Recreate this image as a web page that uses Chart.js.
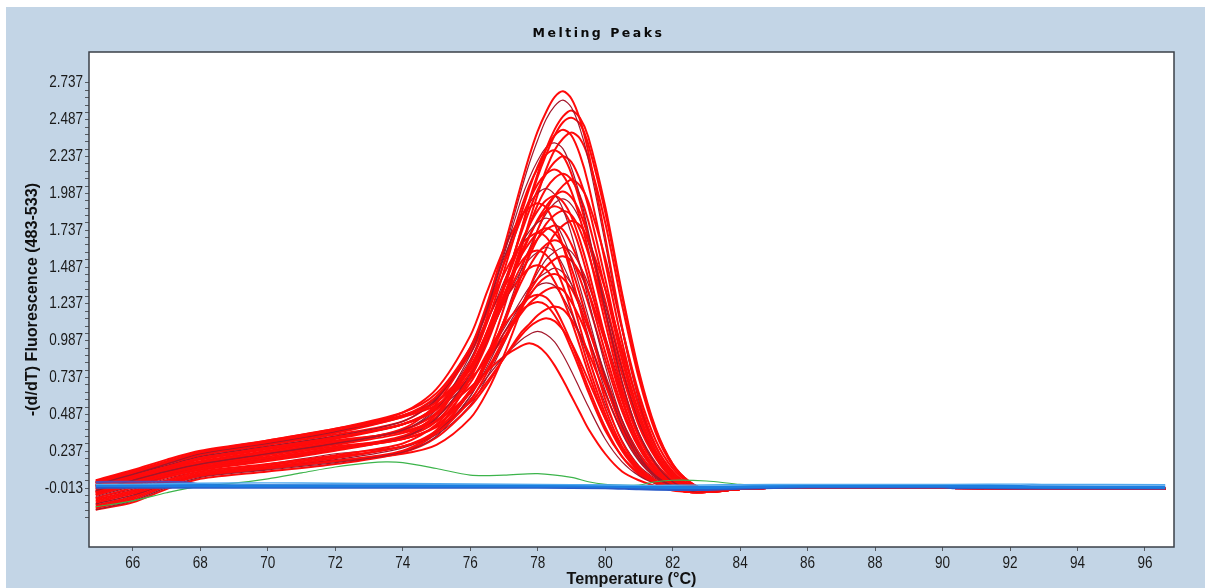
<!DOCTYPE html>
<html>
<head>
<meta charset="utf-8">
<title>Melting Peaks</title>
<script src="https://cdn.jsdelivr.net/npm/chart.js@4.4.0/dist/chart.umd.min.js"></script>
<style>
  body { margin: 0; background: #ffffff; }
  #mycanvas { position: absolute; left: 6px; top: 7px; }
</style>
</head>
<body>
<canvas id="mycanvas" width="1199" height="581"></canvas>
<script>
// temperatures (°C) at which the sample curves were read
var temps = [64.9, 66, 67, 68, 70, 72, 74, 75, 76, 76.5, 77, 77.5, 77.75, 78, 78.25, 78.5, 78.75,
             79, 79.25, 79.5, 80, 80.5, 81, 81.5, 82, 82.5, 83, 84, 85, 90, 96.6];

// -(d/dT) fluorescence of the positive samples (red)
var redSamples = [
  [0.03,0.10,0.17,0.23,0.30,0.38,0.48,0.61,0.94,1.24,1.62,2.04,2.24,2.41,2.54,2.64,2.68,2.63,2.49,2.27,1.69,1.08,0.60,0.27,0.09,0.00,-0.03,-0.02,-0.01,-0.012,-0.018],
  [0.01,0.08,0.15,0.22,0.29,0.37,0.48,0.60,0.93,1.22,1.59,2.00,2.19,2.35,2.49,2.58,2.62,2.57,2.43,2.22,1.65,1.06,0.58,0.27,0.09,0.00,-0.03,-0.02,-0.01,-0.012,-0.018],
  [0.00,0.07,0.13,0.19,0.26,0.33,0.42,0.52,0.77,1.01,1.34,1.73,1.94,2.12,2.29,2.42,2.51,2.55,2.50,2.37,1.90,1.31,0.78,0.39,0.15,0.03,-0.02,-0.02,-0.01,-0.012,-0.018],
  [0.02,0.09,0.16,0.22,0.29,0.37,0.47,0.57,0.81,1.04,1.35,1.73,1.92,2.10,2.25,2.38,2.47,2.50,2.46,2.32,1.86,1.29,0.76,0.38,0.15,0.03,-0.02,-0.02,-0.01,-0.012,-0.018],
  [-0.01,0.06,0.12,0.18,0.25,0.32,0.42,0.54,0.84,1.11,1.46,1.84,2.02,2.17,2.29,2.38,2.42,2.38,2.25,2.05,1.52,0.98,0.54,0.24,0.08,0.00,-0.03,-0.02,-0.01,-0.012,-0.018],
  [-0.03,0.04,0.10,0.15,0.22,0.29,0.38,0.52,0.89,1.20,1.57,1.94,2.09,2.21,2.30,2.33,2.29,2.16,1.97,1.73,1.20,0.71,0.36,0.15,0.03,-0.02,-0.03,-0.02,-0.01,-0.012,-0.018],
  [0.00,0.07,0.13,0.19,0.26,0.33,0.42,0.53,0.81,1.05,1.37,1.71,1.87,2.01,2.12,2.20,2.24,2.20,2.08,1.90,1.41,0.90,0.50,0.22,0.07,0.00,-0.03,-0.02,-0.01,-0.012,-0.018],
  [0.04,0.11,0.18,0.24,0.31,0.39,0.50,0.63,0.94,1.20,1.51,1.81,1.94,2.05,2.12,2.15,2.11,2.00,1.82,1.60,1.11,0.66,0.33,0.14,0.03,-0.02,-0.04,-0.02,-0.01,-0.012,-0.018],
  [-0.04,0.03,0.09,0.14,0.21,0.28,0.36,0.44,0.64,0.84,1.10,1.42,1.58,1.74,1.87,1.97,2.04,2.08,2.04,1.93,1.55,1.07,0.63,0.31,0.12,0.02,-0.02,-0.02,-0.01,-0.012,-0.018],
  [0.01,0.08,0.14,0.20,0.27,0.34,0.44,0.59,0.94,1.22,1.55,1.82,1.92,1.99,2.02,1.98,1.88,1.71,1.50,1.27,0.82,0.45,0.21,0.07,0.00,-0.03,-0.04,-0.02,-0.01,-0.012,-0.018],
  [-0.02,0.05,0.11,0.16,0.23,0.30,0.38,0.50,0.80,1.05,1.35,1.65,1.77,1.87,1.94,1.97,1.93,1.83,1.67,1.47,1.01,0.60,0.30,0.12,0.02,-0.02,-0.035,-0.02,-0.01,-0.012,-0.018],
  [0.02,0.10,0.16,0.23,0.30,0.37,0.50,0.66,1.02,1.32,1.61,1.83,1.89,1.92,1.89,1.78,1.63,1.43,1.21,0.99,0.59,0.30,0.13,0.04,-0.01,-0.04,-0.04,-0.02,-0.01,-0.012,-0.018],
  [-0.06,0.01,0.07,0.12,0.18,0.25,0.32,0.41,0.65,0.86,1.12,1.42,1.56,1.68,1.78,1.84,1.87,1.84,1.74,1.58,1.18,0.76,0.41,0.19,0.05,-0.01,-0.03,-0.02,-0.01,-0.012,-0.018],
  [-0.03,0.04,0.10,0.15,0.22,0.29,0.38,0.53,0.86,1.11,1.39,1.64,1.73,1.79,1.82,1.79,1.69,1.54,1.35,1.15,0.74,0.41,0.19,0.07,0.00,-0.03,-0.04,-0.02,-0.01,-0.012,-0.018],
  [0.00,0.07,0.13,0.19,0.26,0.33,0.42,0.54,0.79,1.00,1.25,1.49,1.60,1.68,1.74,1.77,1.74,1.64,1.50,1.32,0.91,0.54,0.27,0.11,0.02,-0.02,-0.035,-0.02,-0.01,-0.012,-0.018],
  [-0.04,0.03,0.10,0.15,0.22,0.29,0.39,0.56,0.92,1.18,1.44,1.64,1.69,1.72,1.69,1.60,1.46,1.28,1.08,0.88,0.53,0.27,0.12,0.03,-0.015,-0.04,-0.04,-0.02,-0.01,-0.012,-0.018],
  [-0.10,-0.04,0.03,0.09,0.14,0.20,0.27,0.38,0.64,0.86,1.12,1.38,1.49,1.58,1.64,1.67,1.64,1.55,1.41,1.24,0.86,0.51,0.26,0.10,0.015,-0.025,-0.035,-0.02,-0.01,-0.012,-0.018],
  [-0.07,0.00,0.07,0.12,0.18,0.25,0.33,0.46,0.76,0.99,1.24,1.46,1.54,1.59,1.62,1.59,1.50,1.37,1.21,1.02,0.65,0.36,0.17,0.06,0.00,-0.03,-0.04,-0.02,-0.01,-0.012,-0.018],
  [-0.02,0.05,0.11,0.16,0.23,0.30,0.37,0.45,0.63,0.79,1.00,1.22,1.32,1.41,1.49,1.54,1.56,1.53,1.45,1.32,0.98,0.63,0.34,0.15,0.04,-0.015,-0.035,-0.02,-0.01,-0.012,-0.018],
  [-0.05,0.02,0.08,0.13,0.19,0.26,0.34,0.49,0.81,1.04,1.26,1.42,1.48,1.50,1.47,1.39,1.27,1.12,0.95,0.77,0.46,0.24,0.10,0.025,-0.015,-0.04,-0.04,-0.02,-0.01,-0.012,-0.018],
  [-0.11,-0.05,0.02,0.08,0.13,0.19,0.27,0.36,0.58,0.77,0.98,1.20,1.29,1.37,1.42,1.44,1.41,1.34,1.22,1.07,0.74,0.44,0.22,0.09,0.01,-0.03,-0.04,-0.02,-0.01,-0.012,-0.018],
  [-0.16,-0.10,-0.01,0.06,0.11,0.16,0.23,0.34,0.61,0.81,1.04,1.23,1.30,1.36,1.38,1.36,1.28,1.17,1.03,0.87,0.56,0.31,0.14,0.05,-0.01,-0.035,-0.04,-0.02,-0.01,-0.012,-0.018],
  [-0.09,-0.03,0.04,0.10,0.15,0.21,0.29,0.42,0.70,0.90,1.09,1.23,1.28,1.30,1.28,1.21,1.10,0.97,0.82,0.67,0.40,0.20,0.09,0.02,-0.02,-0.04,-0.04,-0.02,-0.01,-0.012,-0.018],
  [-0.06,0.01,0.07,0.12,0.18,0.25,0.32,0.40,0.57,0.71,0.87,1.04,1.10,1.16,1.20,1.22,1.20,1.13,1.03,0.91,0.63,0.37,0.19,0.07,0.00,-0.03,-0.04,-0.02,-0.01,-0.012,-0.018],
  [-0.15,-0.09,0.00,0.07,0.12,0.17,0.23,0.33,0.54,0.69,0.87,1.02,1.08,1.12,1.14,1.12,1.06,0.97,0.85,0.72,0.46,0.26,0.12,0.035,-0.01,-0.035,-0.04,-0.02,-0.01,-0.012,-0.018],
  [-0.12,-0.06,0.02,0.08,0.13,0.18,0.26,0.37,0.59,0.74,0.88,0.99,1.03,1.05,1.03,0.98,0.89,0.78,0.66,0.54,0.32,0.165,0.07,0.015,-0.02,-0.04,-0.04,-0.02,-0.01,-0.012,-0.018],
  [-0.03,0.04,0.10,0.15,0.22,0.29,0.38,0.49,0.67,0.78,0.88,0.95,0.97,0.95,0.90,0.82,0.72,0.61,0.50,0.39,0.22,0.10,0.04,0.00,-0.03,-0.04,-0.04,-0.02,-0.01,-0.012,-0.018],
  [-0.14,-0.08,0.01,0.07,0.12,0.17,0.22,0.28,0.46,0.64,0.89,1.19,1.34,1.48,1.61,1.71,1.77,1.80,1.77,1.67,1.34,0.93,0.55,0.27,0.10,0.01,-0.02,-0.02,-0.01,-0.012,-0.018],
  [-0.08,-0.01,0.06,0.11,0.17,0.24,0.33,0.44,0.74,0.99,1.29,1.58,1.70,1.80,1.87,1.90,1.87,1.77,1.61,1.41,0.98,0.58,0.29,0.12,0.02,-0.02,-0.035,-0.02,-0.01,-0.012,-0.018],
  [-0.12,-0.06,0.01,0.08,0.13,0.19,0.27,0.35,0.55,0.74,0.97,1.22,1.34,1.45,1.54,1.59,1.62,1.59,1.50,1.37,1.02,0.65,0.36,0.16,0.04,-0.015,-0.035,-0.02,-0.01,-0.012,-0.018],
  [-0.01,0.06,0.12,0.17,0.24,0.31,0.37,0.47,0.74,0.97,1.28,1.62,1.77,1.91,2.02,2.09,2.12,2.08,1.97,1.80,1.34,0.86,0.47,0.21,0.06,-0.005,-0.03,-0.02,-0.01,-0.012,-0.018],
  [0.03,0.09,0.16,0.22,0.29,0.36,0.47,0.55,0.73,0.86,1.01,1.17,1.24,1.29,1.33,1.35,1.33,1.25,1.14,1.00,0.69,0.41,0.21,0.08,0.01,-0.03,-0.04,-0.02,-0.01,-0.012,-0.018],
  [-0.05,0.02,0.08,0.13,0.19,0.26,0.33,0.47,0.84,1.15,1.52,1.88,2.04,2.16,2.25,2.28,2.24,2.12,1.93,1.70,1.17,0.70,0.35,0.145,0.03,-0.02,-0.035,-0.02,-0.01,-0.012,-0.018],
  [-0.08,-0.02,0.05,0.10,0.15,0.22,0.27,0.36,0.61,0.84,1.13,1.46,1.61,1.74,1.85,1.92,1.95,1.91,1.81,1.65,1.23,0.79,0.43,0.19,0.06,-0.01,-0.03,-0.02,-0.01,-0.012,-0.018],
  [0.02,0.09,0.15,0.21,0.28,0.35,0.44,0.59,0.90,1.13,1.35,1.52,1.58,1.60,1.57,1.49,1.36,1.19,1.01,0.82,0.49,0.25,0.11,0.03,-0.015,-0.04,-0.04,-0.02,-0.01,-0.012,-0.018],
  [-0.13,-0.07,0.02,0.07,0.12,0.17,0.24,0.38,0.73,1.00,1.30,1.56,1.65,1.72,1.75,1.72,1.63,1.48,1.30,1.10,0.71,0.39,0.18,0.06,0.00,-0.03,-0.04,-0.02,-0.01,-0.012,-0.018],
  [-0.04,0.03,0.09,0.14,0.20,0.27,0.32,0.41,0.65,0.88,1.21,1.60,1.80,1.98,2.15,2.28,2.36,2.40,2.36,2.23,1.79,1.23,0.73,0.36,0.14,0.025,-0.02,-0.02,-0.01,-0.012,-0.018],
  [0.01,0.08,0.14,0.20,0.27,0.34,0.42,0.52,0.72,0.88,1.07,1.26,1.35,1.41,1.45,1.48,1.45,1.37,1.25,1.10,0.76,0.45,0.23,0.09,0.01,-0.03,-0.04,-0.02,-0.01,-0.012,-0.018],
  [-0.16,-0.11,-0.02,0.05,0.10,0.15,0.23,0.36,0.64,0.84,1.04,1.19,1.23,1.25,1.23,1.16,1.06,0.93,0.79,0.64,0.38,0.20,0.08,0.02,-0.02,-0.04,-0.04,-0.02,-0.01,-0.012,-0.018],
  [0.03,0.10,0.16,0.23,0.31,0.39,0.48,0.58,0.81,1.01,1.27,1.56,1.69,1.81,1.90,1.97,2.00,1.96,1.86,1.69,1.26,0.81,0.44,0.20,0.06,-0.01,-0.03,-0.02,-0.01,-0.012,-0.018]
];

// the single green sample
var greenTemps = [64.9, 66, 67, 68, 69, 70, 71, 72, 73, 73.5, 74, 75, 76, 77, 78, 79, 79.5, 80, 80.5,
                  81, 81.5, 82, 83, 84, 85, 88, 92, 94, 96.6];
var greenVals = [-0.14, -0.1, -0.045, 0.0, 0.02, 0.05, 0.09, 0.13, 0.158, 0.165, 0.16, 0.12, 0.075, 0.075,
                 0.085, 0.06, 0.03, 0.012, 0.005, 0.008, 0.03, 0.04, 0.035, 0.012, 0.002, -0.003, -0.005, -0.01, -0.014];

// negative controls (blue) and the short purple trace
var blueTemps = [64.9, 66, 67, 68, 70, 72, 74, 76, 78, 80, 81, 82, 83, 84, 86, 88, 90, 90.3, 92.3, 93, 96.6];
var blueA = [0.005, 0.004, 0.003, 0.003, 0.002, 0.002, 0.002, 0.002, 0.002, 0.0, -0.004, -0.008, -0.008, -0.004, 0.002, 0.002, 0.002, 0.0, -0.003, -0.005, -0.006];
var blueB = [-0.008, -0.008, -0.008, -0.008, -0.008, -0.008, -0.008, -0.008, -0.008, -0.01, -0.018, -0.022, -0.022, -0.015, -0.006, -0.006, -0.006, -0.01, -0.012, -0.012, -0.012];
var blueC = [0.012, 0.014, 0.016, 0.02, 0.022, 0.02, 0.018, 0.015, 0.012, 0.008, 0.005, 0.006, 0.008, 0.01, 0.012, 0.012, 0.012, 0.012, 0.014, 0.012, 0.01];
var purpleTemps = [64.9, 66, 67, 67.6, 68.2, 70, 74, 80];
var purpleVals = [0.028, 0.03, 0.03, 0.025, 0.006, 0.004, 0.003, 0.0];

// axis ticks
var xTicks = [66, 68, 70, 72, 74, 76, 78, 80, 82, 84, 86, 88, 90, 92, 94, 96];
var yLabels = [-0.013, 0.237, 0.487, 0.737, 0.987, 1.237, 1.487, 1.737, 1.987, 2.237, 2.487, 2.737];

function points(xs, ys) {
    return ys.map(function(y, i) { return {x: xs[i], y: y}; });
}

var yTickValues = [];
for (var k = -4; k <= 55; k++) {
    yTickValues.push(+(-0.013 + 0.05 * k).toFixed(3));
}

var datasets = [
    {data: points(blueTemps, blueC), borderColor: '#4fa8ee', borderWidth: 1.4},
    {data: points(blueTemps, blueA), borderColor: '#1c7ddf', borderWidth: 3.2},
    {data: points(blueTemps, blueB), borderColor: '#2a5cc9', borderWidth: 3},
    {data: points(purpleTemps, purpleVals), borderColor: '#5a48b0', borderWidth: 2},
    {data: points(greenTemps, greenVals), borderColor: '#3cb44b', borderWidth: 1.2}
];
redSamples.forEach(function(vals, i) {
    var dark = i % 4 === 1;
    datasets.push({
        data: points(temps, vals),
        borderColor: dark ? '#a3172b' : '#ff0a0a',
        borderWidth: dark ? 1.2 : 2
    });
});

// the instrument software uses a narrow face; squeeze axis text horizontally
function narrowText(ctx, sx, draw) {
    var fill = ctx.fillText;
    ctx.fillText = function(text, x, y, maxWidth) {
        this.save();
        this.translate(x, y);
        this.scale(sx, 1);
        if (maxWidth === undefined) fill.call(this, text, 0, 0);
        else fill.call(this, text, 0, 0, maxWidth / sx);
        this.restore();
    };
    draw();
    ctx.fillText = fill;
}
var scaleProto = Chart.LinearScale.prototype;
var baseLabels = scaleProto.drawLabels;
var baseTitle = scaleProto.drawTitle;
scaleProto.drawLabels = function(area) {
    var me = this;
    narrowText(this.ctx, 0.82, function() { baseLabels.call(me, area); });
};
scaleProto.drawTitle = function() {
    var me = this;
    narrowText(this.ctx, 0.95, function() { baseTitle.call(me); });
};

var tickFont = {family: "'Liberation Sans', Arial, sans-serif", size: 16.5};
var titleFont = {family: "'Liberation Sans', Arial, sans-serif", size: 17, weight: 'bold', lineHeight: 1};

var frame = {
    id: 'frame',
    beforeDraw: function(chart) {
        var ctx = chart.ctx, a = chart.chartArea;
        ctx.save();
        ctx.fillStyle = '#c3d5e6';
        ctx.fillRect(0, 0, chart.width, chart.height);
        ctx.fillStyle = '#ffffff';
        ctx.fillRect(a.left, a.top, a.right - a.left, a.bottom - a.top);
        ctx.restore();
    },
    afterDraw: function(chart) {
        var ctx = chart.ctx, a = chart.chartArea;
        ctx.save();
        ctx.strokeStyle = '#3b4048';
        ctx.lineWidth = 1.5;
        ctx.strokeRect(a.left, a.top, a.right - a.left, a.bottom - a.top);
        ctx.font = "bold 12.5px 'DejaVu Sans'";
        ctx.letterSpacing = '2.5px';
        ctx.fillStyle = '#0a0a0a';
        ctx.textAlign = 'center';
        ctx.textBaseline = 'middle';
        ctx.fillText('Melting Peaks', chart.width / 2 - 7, 27);
        ctx.restore();
    }
};

var ctx = document.getElementById('mycanvas');

var meltChart = new Chart(ctx, {
    type: 'line',
    data: {datasets: datasets},
    plugins: [frame],
    options: {
        responsive: false,
        animation: false,
        devicePixelRatio: 1,
        layout: {padding: {top: 45, right: 31, left: 0, bottom: 0}},
        elements: {
            line: {tension: 0.3, fill: false},
            point: {radius: 0}
        },
        plugins: {
            legend: {display: false},
            tooltip: {enabled: false}
        },
        scales: {
            x: {
                type: 'linear',
                min: 64.7,
                max: 96.86,
                afterBuildTicks: function(s) { s.ticks = xTicks.map(function(v) { return {value: v}; }); },
                afterFit: function(s) { s.height = 41; },
                border: {display: false},
                grid: {display: true, drawOnChartArea: false, tickLength: 4, tickColor: '#555a60'},
                ticks: {autoSkip: false, maxRotation: 0, padding: 3, color: '#1a1a1a', font: tickFont,
                        callback: function(v) { return String(v); }},
                title: {display: true, text: 'Temperature (°C)', color: '#111111', font: titleFont,
                        padding: {top: 0, bottom: 0}}
            },
            y: {
                min: -0.413,
                max: 2.947,
                afterBuildTicks: function(s) { s.ticks = yTickValues.map(function(v) { return {value: v}; }); },
                afterFit: function(s) { s.width = 83; },
                border: {display: false},
                grid: {display: true, drawOnChartArea: false, tickLength: 4, tickColor: '#555a60'},
                ticks: {autoSkip: false, padding: 2, color: '#1a1a1a', font: tickFont,
                        callback: function(v) {
                            var r = +(+v).toFixed(3);
                            return yLabels.indexOf(r) >= 0 ? r.toFixed(3) : '';
                        }},
                title: {display: true, text: '-(d/dT) Fluorescence (483-533)', color: '#111111', font: titleFont,
                        padding: {top: 18, bottom: 0}}
            }
        }
    }
});
</script>
</body>
</html>
